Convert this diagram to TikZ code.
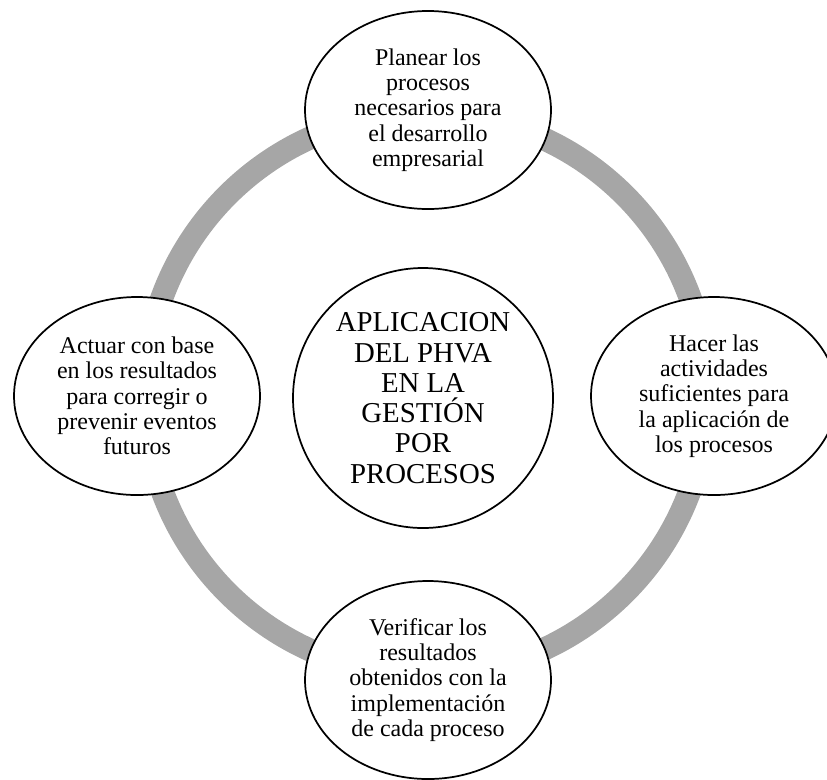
\documentclass[tikz,border=0pt]{standalone}
\usepackage{fontspec}
\setmainfont{Liberation Serif}
\usetikzlibrary{shapes.geometric}
\definecolor{ringgray}{HTML}{A6A6A6}
\begin{document}
\begin{tikzpicture}[x=0.75pt,y=-0.75pt,
  phase/.style={ellipse, draw=black, line width=1.3pt, fill=white,
    minimum width=184.5pt, minimum height=148.5pt, inner sep=0pt,
    align=center, font=\fontsize{18}{19}\selectfont},
  hub/.style={circle, draw=black, line width=1.3pt, fill=white,
    minimum size=195pt, inner sep=0pt, align=center,
    font=\fontsize{21.6}{22.7}\selectfont},
  cyclering/.style={draw=ringgray, line width=17.25pt}]
\useasboundingbox (0,0) rectangle (827,779);
\clip (0,0) rectangle (827,779);
% the PHVA cycle ring
\coordinate (c) at (426,394);
\draw[cyclering] (c) circle [radius=210.75pt];
% the four phases
\node[phase] (plan) at (428,110) {Planear los\\procesos\\necesarios para\\el desarrollo\\empresarial};
\node[phase] (hacer) at (714,396) {Hacer las\\actividades\\suficientes para\\la aplicación de\\los procesos};
\node[phase] (verif) at (428,680) {Verificar los\\resultados\\obtenidos con la\\implementación\\de cada proceso};
\node[phase] (actuar) at (137,396) {Actuar con base\\en los resultados\\para corregir o\\prevenir eventos\\futuros};
% central topic
\node[hub] (hub) at (423,398) {APLICACION\\DEL PHVA\\EN LA\\GESTIÓN\\POR\\PROCESOS};
\end{tikzpicture}
\end{document}
